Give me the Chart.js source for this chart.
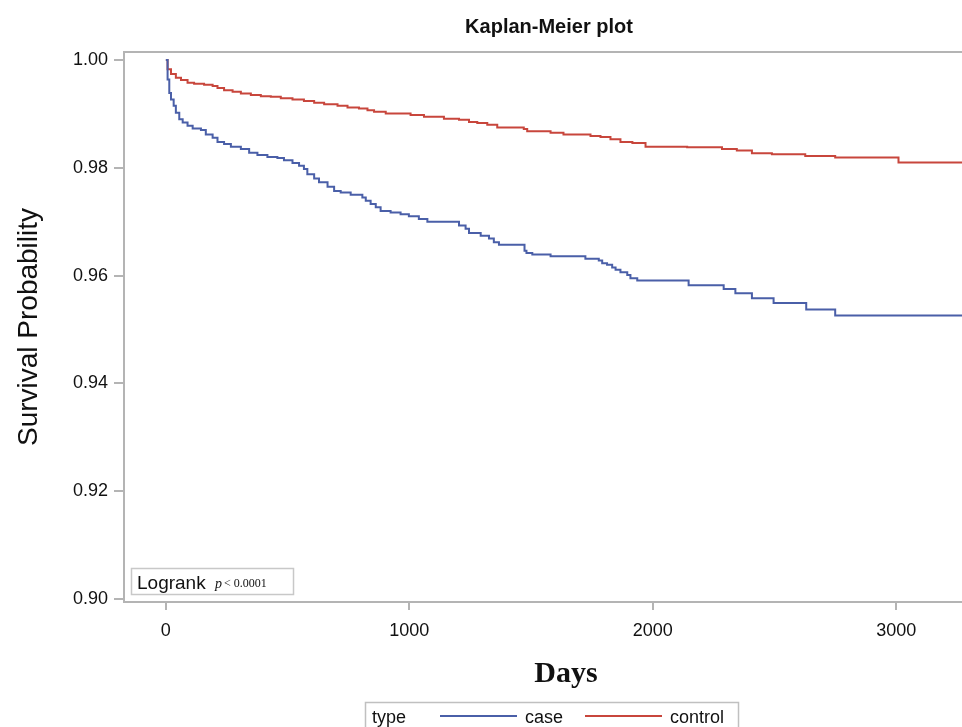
<!DOCTYPE html>
<html>
<head>
<meta charset="utf-8">
<script src="https://cdn.jsdelivr.net/npm/chart.js@4.4.1/dist/chart.umd.min.js"></script>
<style>
html,body{margin:0;padding:0;background:#fff;overflow:hidden}
#wrap{position:relative;width:975px;height:727px}
</style>
</head>
<body>
<div id="wrap"><canvas id="km" width="975" height="727"></canvas></div>
<script>
// survival curves (days, probability)
const caseDays=[0,7,14,21,32,41,55,69,89,110,144,164,192,212,239,267,308,342,376,417,458,485,520,547,567,581,609,629,664,691,718,759,807,821,841,862,882,923,964,998,1039,1074,1204,1231,1245,1293,1327,1347,1368,1473,1481,1505,1580,1723,1778,1792,1812,1833,1847,1867,1895,1908,1936,2147,2291,2339,2407,2496,2630,2749,3320]
const caseSurv=[1.0,0.9964,0.9939,0.9927,0.9915,0.9902,0.9890,0.9884,0.9878,0.9873,0.9870,0.9862,0.9856,0.9848,0.9844,0.9839,0.9835,0.9828,0.9824,0.9820,0.9818,0.9814,0.9809,0.9804,0.9798,0.9788,0.9780,0.9773,0.9765,0.9757,0.9754,0.9750,0.9745,0.9739,0.9733,0.9727,0.9720,0.9717,0.9714,0.9710,0.9705,0.9700,0.9693,0.9687,0.9679,0.9674,0.9669,0.9662,0.9657,0.9646,0.9642,0.9639,0.9636,0.9631,0.9628,0.9623,0.9620,0.9615,0.9611,0.9606,0.9601,0.9595,0.9591,0.9582,0.9575,0.9567,0.9558,0.9549,0.9537,0.9526,0.9526]
const controlDays=[0,7,21,41,62,89,116,157,192,212,239,274,308,349,390,431,472,520,567,609,650,705,746,793,828,855,903,1005,1060,1142,1204,1245,1279,1320,1361,1470,1484,1580,1633,1744,1785,1826,1867,1916,1970,2141,2284,2345,2407,2489,2626,2749,3009,3320]
const controlSurv=[1.0,0.9983,0.9974,0.9967,0.9963,0.9958,0.9956,0.9954,0.9952,0.9948,0.9944,0.9941,0.9938,0.9935,0.9933,0.9932,0.9929,0.9927,0.9924,0.9921,0.9918,0.9915,0.9912,0.9910,0.9907,0.9904,0.9901,0.9898,0.9895,0.9891,0.9889,0.9885,0.9883,0.9880,0.9875,0.9872,0.9868,0.9865,0.9862,0.9859,0.9857,0.9853,0.9848,0.9846,0.9839,0.9838,0.9835,0.9832,0.9827,0.9825,0.9822,0.9819,0.9810,0.9810]
const xTicks=[0,1000,2000,3000]
const yTicks=[0.90,0.92,0.94,0.96,0.98,1.00]
const groupNames=['case','control']
const groupColors=['#4a5fa8','#c8463c']

const FRAME='#b4b4b4'
const SANS='"Liberation Sans", Arial, sans-serif'
const SERIF='"Liberation Serif", "Times New Roman", serif'

function toPoints(days,surv){
    return days.map((d,i)=>({x:d,y:surv[i]}))
}

// frame box, title, x title, logrank note, legend
const extras={
    id:'extras',
    afterDatasetsDraw(chart){
        let ctx=chart.ctx, a=chart.chartArea
        ctx.save()
        ctx.strokeStyle=FRAME
        ctx.lineWidth=2
        ctx.strokeRect(a.left,a.top,a.right-a.left,a.bottom-a.top)

        // logrank box
        ctx.strokeStyle='#c8c8c8'
        ctx.lineWidth=1.5
        ctx.strokeRect(131.5,568.5,162,26)
        ctx.fillStyle='#111'
        ctx.textBaseline='alphabetic'
        ctx.textAlign='left'
        ctx.font='19px '+SANS
        ctx.fillText('Logrank',137,589)
        ctx.font='italic 14px '+SERIF
        ctx.fillText('p',215,588)
        ctx.font='12px '+SERIF
        ctx.fillText('< 0.0001',224,587)
        ctx.restore()
    },
    afterDraw(chart){
        let ctx=chart.ctx
        ctx.save()
        ctx.fillStyle='#111'
        ctx.textAlign='center'
        ctx.textBaseline='alphabetic'
        ctx.font='bold 20px '+SANS
        ctx.fillText('Kaplan-Meier plot',549,33)
        ctx.font='bold 30px '+SERIF
        ctx.fillText('Days',566,682)

        // legend
        ctx.strokeStyle='#c0c0c0'
        ctx.lineWidth=1.5
        ctx.strokeRect(365.5,702.5,373,30)
        ctx.textAlign='left'
        ctx.font='18px '+SANS
        ctx.fillStyle='#111'
        ctx.fillText('type',372,723)
        let xs=[440,585]
        chart.data.datasets.forEach((ds,i)=>{
            ctx.strokeStyle=ds.borderColor
            ctx.lineWidth=2
            ctx.beginPath()
            ctx.moveTo(xs[i],716)
            ctx.lineTo(xs[i]+77,716)
            ctx.stroke()
            ctx.fillStyle='#111'
            ctx.fillText(ds.label,xs[i]+85,723)
        })
        ctx.restore()
    }
}

new Chart(document.getElementById('km').getContext('2d'),{
    type:'line',
    data:{
        datasets:[
            {label:groupNames[0],data:toPoints(caseDays,caseSurv),borderColor:groupColors[0],borderWidth:2,pointRadius:0,stepped:true,fill:false},
            {label:groupNames[1],data:toPoints(controlDays,controlSurv),borderColor:groupColors[1],borderWidth:2,pointRadius:0,stepped:true,fill:false}
        ]
    },
    options:{
        responsive:false,
        animation:false,
        devicePixelRatio:1,
        layout:{padding:{top:52,left:0,right:2,bottom:0}},
        plugins:{legend:{display:false},title:{display:false},tooltip:{enabled:false}},
        scales:{
            x:{
                type:'linear',
                min:-172,max:3315,
                afterBuildTicks:s=>{s.ticks=xTicks.map(v=>({value:v}))},
                afterFit:s=>{s.height=125},
                grid:{drawOnChartArea:false,drawTicks:true,tickLength:8,color:FRAME,lineWidth:2},
                border:{display:false},
                ticks:{color:'#111',font:{family:SANS,size:18},padding:10,maxRotation:0,callback:v=>String(v)}
            },
            y:{
                type:'linear',
                min:0.8994,max:1.0015,
                afterBuildTicks:s=>{s.ticks=yTicks.map(v=>({value:v}))},
                afterFit:s=>{s.width=124},
                grid:{drawOnChartArea:false,drawTicks:true,tickLength:10,color:FRAME,lineWidth:2},
                border:{display:false},
                ticks:{color:'#111',font:{family:SANS,size:18},padding:6,callback:v=>Number(v).toFixed(2)},
                title:{display:true,text:'Survival Probability',color:'#111',font:{family:SANS,size:28},padding:{top:12,bottom:0}}
            }
        }
    },
    plugins:[extras]
})
</script>
</body>
</html>
